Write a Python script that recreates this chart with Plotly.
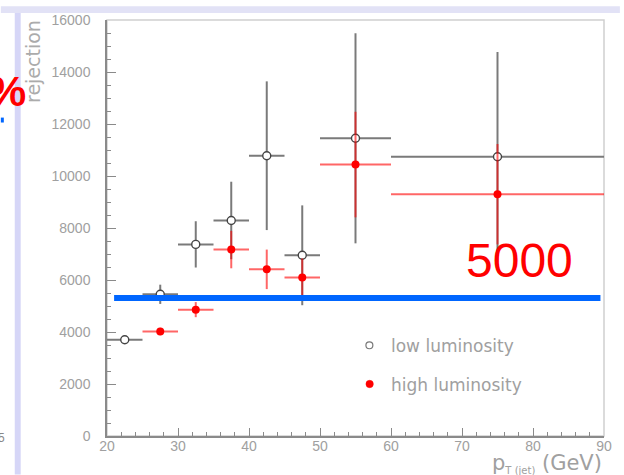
import plotly.graph_objects as go

# ---- data ----
bin_centers = [22.5, 27.5, 32.5, 37.5, 42.5, 47.5, 55, 75]
bin_halfwidth = [2.5, 2.5, 2.5, 2.5, 2.5, 2.5, 5, 15]

low_lum = [3700, 5450, 7370, 8290, 10780, 6950, 11450, 10740]
low_err = [80, 370, 890, 1490, 2860, 1920, 4040, 4030]

high_x = [27.5, 32.5, 37.5, 42.5, 47.5, 55, 75]
high_halfwidth = [2.5, 2.5, 2.5, 2.5, 2.5, 5, 15]
high_lum = [4020, 4860, 7170, 6410, 6100, 10440, 9300]
high_err = [140, 290, 720, 760, 730, 2030, 1930]

threshold = 5310
threshold_x = [21, 89.5]
threshold_label = "5000"

x_range = [20, 90]
y_range = [0, 16000]
legend_names = ["low luminosity", "high luminosity"]

# ---- geometry helpers (pixel -> paper) ----
W, H = 624, 475
L, R, T, B = 107, 16, 14, 39
PW, PH = W - L - R, H - T - B


def px(x):
    return (x - L) / PW


def py(y):
    return (H - B - y) / PH


GREY_TXT = "#a0a0a0"
AXIS = "#8a8a8a"

fig = go.Figure()

fig.add_trace(go.Scatter(
    x=bin_centers, y=low_lum, mode="markers", name=legend_names[0],
    marker=dict(symbol="circle", size=8, color="white",
                line=dict(color="#444", width=1.4)),
    error_x=dict(type="data", array=bin_halfwidth, color="#7a7a7a", thickness=2, width=0),
    error_y=dict(type="data", array=low_err, color="#7a7a7a", thickness=2, width=0),
    showlegend=False,
))

fig.add_trace(go.Scatter(
    x=high_x, y=high_lum, mode="markers", name=legend_names[1],
    marker=dict(symbol="circle", size=8, color="#ff0000"),
    error_x=dict(type="data", array=high_halfwidth, color="rgba(255,0,0,0.6)", thickness=2, width=0),
    error_y=dict(type="data", array=high_err, color="rgba(255,0,0,0.6)", thickness=2, width=0),
    showlegend=False,
))

shapes = [
    # frame
    dict(type="rect", xref="paper", yref="paper", x0=0, x1=1, y0=0, y1=1,
         line=dict(color="#cfcfcf", width=1.5), layer="below"),
    # threshold line
    dict(type="line", xref="x", yref="y", x0=threshold_x[0], x1=threshold_x[1],
         y0=threshold, y1=threshold, line=dict(color="#0066ff", width=6)),
    # top slide band
    dict(type="rect", xref="paper", yref="paper", x0=px(0), x1=px(W), y0=py(0), y1=py(7),
         line=dict(width=0), fillcolor="#e2e2f6", layer="below"),
    # left slide bar
    dict(type="rect", xref="paper", yref="paper", x0=px(14), x1=px(20), y0=py(7), y1=py(H),
         line=dict(width=0), fillcolor="#d6d6f7", layer="below"),
    # small blue bullet
    dict(type="rect", xref="paper", yref="paper", x0=px(0), x1=px(3), y0=py(113), y1=py(118),
         line=dict(width=0), fillcolor="#0066ff"),
    # legend markers
    dict(type="circle", xref="paper", yref="paper", x0=px(368), x1=px(375), y0=py(340.5), y1=py(347.5),
         line=dict(color="#777", width=1.2), fillcolor="white"),
    dict(type="circle", xref="paper", yref="paper", x0=px(368), x1=px(375.5), y0=py(379.5), y1=py(387),
         line=dict(color="#ff0000", width=0.5), fillcolor="#ff0000"),
]

annotations = [
    dict(text="rejection", xref="paper", yref="paper", x=px(33), y=py(56), textangle=-90,
         showarrow=False, xanchor="center", yanchor="middle",
         font=dict(family="DejaVu Sans", size=19, color="#ababab")),
    dict(text="p<sub><span style='font-size:10px'>T (jet)</span></sub> (GeV)",
         xref="paper", yref="paper", x=px(608), y=py(464), showarrow=False,
         xanchor="right", yanchor="middle",
         font=dict(family="DejaVu Sans", size=21, color=GREY_TXT)),
    dict(text=legend_names[0], xref="paper", yref="paper", x=px(391), y=py(345), showarrow=False,
         xanchor="left", yanchor="middle",
         font=dict(family="DejaVu Sans", size=17, color=GREY_TXT)),
    dict(text=legend_names[1], xref="paper", yref="paper", x=px(391), y=py(384), showarrow=False,
         xanchor="left", yanchor="middle",
         font=dict(family="DejaVu Sans", size=17, color=GREY_TXT)),
    dict(text=threshold_label, xref="paper", yref="paper", x=px(523), y=py(258), showarrow=False,
         xanchor="center", yanchor="middle",
         font=dict(family="Liberation Sans", size=48, color="#ff0000")),
    dict(text="<b>%</b>", xref="paper", yref="paper", x=px(27), y=py(86), showarrow=False,
         xanchor="right", yanchor="middle",
         font=dict(family="Liberation Sans", size=43, color="#ff0000")),
    dict(text="5", xref="paper", yref="paper", x=px(6), y=py(438), showarrow=False,
         xanchor="right", yanchor="middle",
         font=dict(family="Liberation Sans", size=12, color="#888")),
]

fig.update_layout(
    width=W, height=H, autosize=False,
    margin=dict(l=L, r=R, t=T, b=B, pad=0),
    paper_bgcolor="white", plot_bgcolor="white",
    shapes=shapes, annotations=annotations,
    showlegend=False,
)

fig.update_xaxes(
    range=x_range, tickmode="linear", tick0=20, dtick=10,
    ticks="inside", ticklen=8, tickwidth=1, tickcolor=AXIS,
    minor=dict(dtick=2, ticks="inside", ticklen=4, tickcolor=AXIS, showgrid=False),
    showline=True, linecolor=AXIS, linewidth=1.5,
    showgrid=False, zeroline=False,
    tickfont=dict(family="Liberation Sans", size=14, color=GREY_TXT),
    ticklabelstandoff=-4,
)
fig.update_yaxes(
    range=y_range, tickmode="linear", tick0=0, dtick=2000, tickformat="d",
    ticks="inside", ticklen=9, tickwidth=1, tickcolor=AXIS,
    minor=dict(dtick=500, ticks="inside", ticklen=4, tickcolor=AXIS, showgrid=False),
    showline=True, linecolor=AXIS, linewidth=1.5,
    showgrid=False, zeroline=False,
    tickfont=dict(family="Liberation Sans", size=14, color=GREY_TXT),
    ticklabelstandoff=12,
)

fig.write_html("out.html")
